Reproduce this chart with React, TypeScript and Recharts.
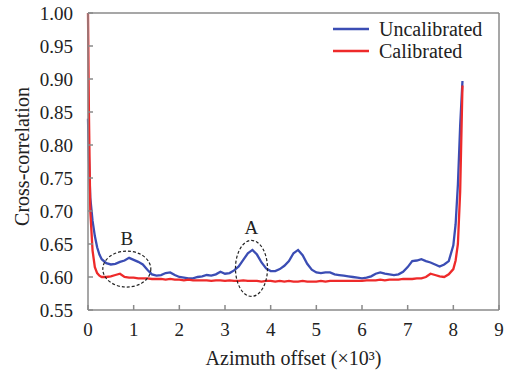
import {
  LineChart,
  Line,
  XAxis,
  YAxis,
  ReferenceDot,
  Label,
} from 'recharts'

// azimuth offset (x10^3)
const offsets = [
  0, 0.02, 0.05, 0.1, 0.15, 0.2, 0.25, 0.3, 0.4, 0.5, 0.6, 0.7, 0.8, 0.9, 1.0,
  1.1, 1.2, 1.3, 1.4, 1.5, 1.6, 1.7, 1.8, 1.9, 2.0, 2.1, 2.2, 2.3, 2.4, 2.5,
  2.6, 2.7, 2.8, 2.9, 3.0, 3.1, 3.2, 3.3, 3.4, 3.5, 3.6, 3.7, 3.8, 3.9, 4.0,
  4.1, 4.2, 4.3, 4.4, 4.5, 4.6, 4.7, 4.8, 4.9, 5.0, 5.1, 5.2, 5.3, 5.4, 5.5,
  5.6, 5.7, 5.8, 5.9, 6.0, 6.1, 6.2, 6.3, 6.4, 6.5, 6.6, 6.7, 6.8, 6.9, 7.0,
  7.1, 7.2, 7.3, 7.4, 7.5, 7.6, 7.7, 7.8, 7.9, 8.0, 8.05, 8.1, 8.15, 8.2,
]

const uncalibrated = [
  0.84, 0.78, 0.72, 0.685, 0.662, 0.645, 0.634, 0.627, 0.621, 0.619, 0.62, 0.623, 0.625, 0.629, 0.626,
  0.623, 0.619, 0.611, 0.604, 0.602, 0.603, 0.606, 0.607, 0.603, 0.6, 0.599, 0.598, 0.598, 0.6, 0.601,
  0.603, 0.602, 0.604, 0.608, 0.605, 0.606, 0.61, 0.616, 0.626, 0.636, 0.641, 0.634, 0.622, 0.613, 0.609,
  0.609, 0.612, 0.617, 0.624, 0.636, 0.641, 0.633, 0.62, 0.611, 0.607, 0.606, 0.607, 0.607, 0.604, 0.603,
  0.602, 0.601, 0.6, 0.599, 0.598, 0.599, 0.601, 0.605, 0.607, 0.605, 0.604, 0.603, 0.604, 0.608, 0.615,
  0.624, 0.625, 0.627, 0.624, 0.622, 0.619, 0.616, 0.619, 0.624, 0.648, 0.68, 0.74, 0.83, 0.897,
]

const calibrated = [
  1.0, 0.85, 0.7, 0.64, 0.615, 0.606, 0.602, 0.6, 0.6, 0.601, 0.603, 0.605, 0.6, 0.599, 0.599,
  0.598, 0.598, 0.598, 0.597, 0.597, 0.597, 0.596, 0.597, 0.596, 0.596, 0.595, 0.596, 0.595, 0.595, 0.595,
  0.595, 0.594, 0.595, 0.595, 0.594, 0.595, 0.594, 0.594, 0.595, 0.594, 0.594, 0.594, 0.593, 0.594, 0.594,
  0.593, 0.594, 0.593, 0.594, 0.593, 0.593, 0.594, 0.593, 0.593, 0.593, 0.594, 0.593, 0.594, 0.594, 0.594,
  0.594, 0.594, 0.594, 0.594, 0.594, 0.595, 0.595, 0.595, 0.596, 0.595, 0.596, 0.596, 0.596, 0.597, 0.597,
  0.597, 0.598, 0.598, 0.6, 0.605, 0.603, 0.601, 0.6, 0.604, 0.612, 0.625, 0.65, 0.73, 0.89,
]

const xTicks = [0, 1, 2, 3, 4, 5, 6, 7, 8, 9]
const yTicks = [0.55, 0.6, 0.65, 0.7, 0.75, 0.8, 0.85, 0.9, 0.95, 1.0]

// dashed ellipses marking regions of interest
const regions = [
  { label: 'B', x: 0.85, y: 0.612, rx: 24, ry: 18 },
  { label: 'A', x: 3.58, y: 0.613, rx: 16, ry: 28 },
]

const data = offsets.map((x, i) => ({
  x,
  Uncalibrated: uncalibrated[i],
  Calibrated: calibrated[i],
}))

const BLUE = '#3b4db4'
const RED = '#ee2a2a'
const AXIS = '#8a8a8a'
const FONT = 'Liberation Serif, DejaVu Serif, serif'

const legendRows = [
  { name: 'Uncalibrated', color: BLUE },
  { name: 'Calibrated', color: RED },
]

function LegendBox() {
  return (
    <div
      style={{
        position: 'absolute',
        left: 333,
        top: 18,
        fontFamily: FONT,
        fontSize: 20,
        color: '#222',
      }}
    >
      {legendRows.map(r => (
        <div key={r.name} style={{ display: 'flex', alignItems: 'center', height: 22 }}>
          <svg width={36} height={4} style={{ marginRight: 10 }}>
            <line x1={0} y1={2} x2={36} y2={2} stroke={r.color} strokeWidth={2.5} />
          </svg>
          <span>{r.name}</span>
        </div>
      ))}
    </div>
  )
}

export default function App() {
  return (
    <div style={{ position: 'absolute', left: 0, top: 0, width: 509, height: 376, background: '#fff' }}>
      <LineChart
        width={509}
        height={376}
        data={data}
        margin={{ top: 12, right: 9, bottom: 0, left: 0 }}
      >
        <XAxis
          dataKey="x"
          type="number"
          domain={[0, 9]}
          ticks={xTicks}
          height={66}
          stroke={AXIS}
          strokeWidth={1.5}
          tickSize={-5}
          tickMargin={18}
          tick={{ fill: '#222', fontSize: 19, fontFamily: FONT }}
        >
          <Label
            value="Azimuth offset (×10³)"
            position="insideBottom"
            offset={11}
            style={{ fill: '#222', fontSize: 20, fontFamily: FONT }}
          />
        </XAxis>
        <XAxis
          xAxisId="top"
          orientation="top"
          dataKey="x"
          type="number"
          domain={[0, 9]}
          ticks={xTicks}
          height={1}
          stroke={AXIS}
          strokeWidth={1.5}
          tickSize={-5}
          tick={false}
        />
        <YAxis
          type="number"
          domain={[0.55, 1.0]}
          ticks={yTicks}
          width={88}
          stroke={AXIS}
          strokeWidth={1.5}
          tickSize={-5}
          tickMargin={20}
          tickFormatter={(v: number) => v.toFixed(2)}
          tick={{ fill: '#222', fontSize: 19, fontFamily: FONT }}
        >
          <Label
            content={({ viewBox }: any) => {
              const cx = viewBox.x + 22
              const cy = viewBox.y + viewBox.height / 2 - 5
              return (
                <text
                  x={cx}
                  y={cy}
                  transform={`rotate(-90 ${cx} ${cy})`}
                  textAnchor="middle"
                  dominantBaseline="central"
                  style={{ fill: '#222', fontSize: 20, fontFamily: FONT }}
                >
                  Cross-correlation
                </text>
              )
            }}
          />
        </YAxis>
        <YAxis
          yAxisId="right"
          orientation="right"
          type="number"
          domain={[0.55, 1.0]}
          ticks={yTicks}
          width={1}
          stroke={AXIS}
          strokeWidth={1.5}
          tickSize={-5}
          tick={false}
        />
        <Line
          dataKey="Uncalibrated"
          stroke={BLUE}
          strokeWidth={2.3}
          dot={false}
          type="linear"
          isAnimationActive={false}
        />
        <Line
          dataKey="Calibrated"
          stroke={RED}
          strokeWidth={2.3}
          dot={false}
          type="linear"
          isAnimationActive={false}
        />
        {regions.map(r => (
          <ReferenceDot
            key={r.label}
            x={r.x}
            y={r.y}
            shape={(p: any) => (
              <g>
                <ellipse
                  cx={p.cx}
                  cy={p.cy}
                  rx={r.rx}
                  ry={r.ry}
                  fill="none"
                  stroke="#222"
                  strokeWidth={1.2}
                  strokeDasharray="3 2"
                />
                <text
                  x={p.cx}
                  y={p.cy - r.ry - 6}
                  textAnchor="middle"
                  style={{ fill: '#222', fontSize: 19, fontFamily: FONT }}
                >
                  {r.label}
                </text>
              </g>
            )}
          />
        ))}
      </LineChart>
      <LegendBox />
    </div>
  )
}
